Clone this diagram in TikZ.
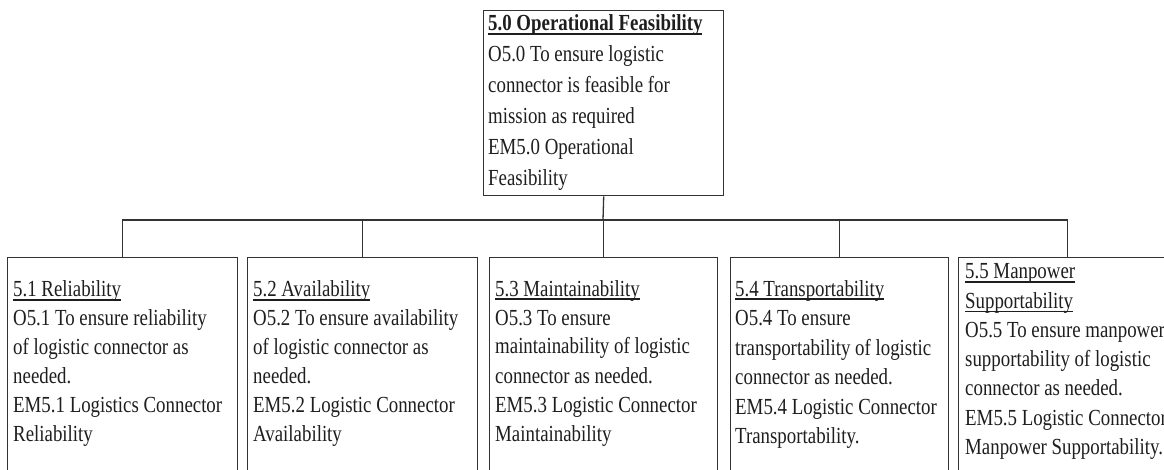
\documentclass[tikz,border=0pt]{standalone}
\usepackage{fontspec}
\setmainfont{Liberation Serif}[FakeStretch=0.82]
\newcommand{\ulx}[1]{\leavevmode\setbox0\hbox{#1}\rlap{\rule[-3.8pt]{\wd0}{1.3pt}}\box0}
\newcommand{\lines}[2]{\parbox[t]{300pt}{\fontsize{23}{#1}\selectfont #2}}
\definecolor{linec}{HTML}{333333}
\definecolor{textc}{HTML}{1E1E1E}
\tikzset{
  box/.style={draw=linec, line width=1.4pt, inner sep=0pt, anchor=north west},
  txt/.style={inner sep=0pt, anchor=base west, text=textc},
  conn/.style={draw=linec, line width=1.3pt}
}
\begin{document}
\begin{tikzpicture}[x=1pt,y=1pt]
\clip (0,0) rectangle (1164,-470);
\fill[white] (0,0) rectangle (1164,-470);
% boxes
\node[box, minimum width=240pt, minimum height=185pt] (top) at (483,-10) {};
\node[box, minimum width=230pt, minimum height=260pt] (b1) at (7,-257) {};
\node[box, minimum width=230pt, minimum height=260pt] (b2) at (247,-257) {};
\node[box, minimum width=228pt, minimum height=260pt] (b3) at (489,-257) {};
\node[box, minimum width=218pt, minimum height=260pt] (b4) at (730,-257) {};
\node[box, minimum width=218pt, minimum height=260pt] (b5) at (958,-257) {};
% texts
\node[txt] (ttop) at ([shift={(5,-21)}]top.north west) {\lines{31}{\ulx{\textbf{5.0 Operational Feasibility}}\\O5.0 To ensure logistic\\connector is feasible for\\mission as required\\EM5.0 Operational\\Feasibility}};
\node[txt] (t1) at ([shift={(6,-40)}]b1.north west) {\lines{28.8}{\ulx{5.1 Reliability}\\O5.1 To ensure reliability\\of logistic connector as\\needed.\\EM5.1 Logistics Connector\\Reliability}};
\node[txt] (t2) at ([shift={(6,-40)}]b2.north west) {\lines{28.8}{\ulx{5.2 Availability}\\O5.2 To ensure availability\\of logistic connector as\\needed.\\EM5.2 Logistic Connector\\Availability}};
\node[txt] (t3) at ([shift={(6,-39)}]b3.north west) {\lines{29}{\ulx{5.3 Maintainability}\\O5.3 To ensure\\maintainability of logistic\\connector as needed.\\EM5.3 Logistic Connector\\Maintainability}};
\node[txt] (t4) at ([shift={(5,-39)}]b4.north west) {\lines{29.5}{\ulx{5.4 Transportability}\\O5.4 To ensure\\transportability of logistic\\connector as needed.\\EM5.4 Logistic Connector\\Transportability.}};
\node[txt] (t5) at ([shift={(7,-22)}]b5.north west) {\lines{29.2}{\ulx{5.5 Manpower}\\\ulx{Supportability}\\O5.5 To ensure manpower\\supportability of logistic\\connector as needed.\\EM5.5 Logistic Connector\\Manpower Supportability.}};
% connectors
\coordinate (bus) at (603,-220);
\draw[conn] (top.south) -- (bus);
\foreach \b in {b1,b2,b3,b4,b5} \draw[conn] (bus) -| (\b.north);
\end{tikzpicture}
\end{document}
